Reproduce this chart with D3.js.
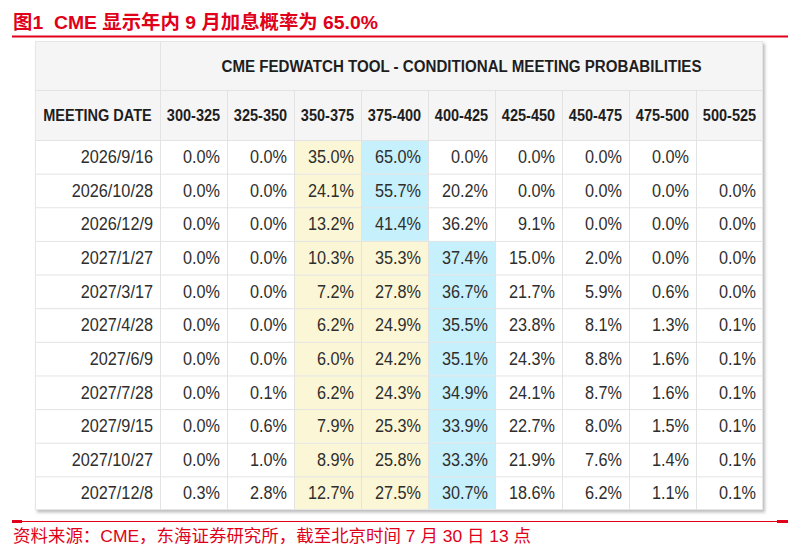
<!DOCTYPE html>
<html>
<head>
<meta charset="utf-8">
<script src="https://cdn.jsdelivr.net/npm/d3@7"></script>
<style>
  body { margin: 0; background: #fff; }
  text { font-family: "Liberation Sans", Arial, sans-serif; }
  .cjk { font-family: "Liberation Sans", "Noto Sans CJK SC", sans-serif; white-space: pre; }
</style>
</head>
<body>
<div id="chart"></div>
<script>
// figure texts
const figTitle = "图1  CME 显示年内 9 月加息概率为 65.0%";
const tableTitle = "CME FEDWATCH TOOL - CONDITIONAL MEETING PROBABILITIES";
const sourceNote = "资料来源：CME，东海证券研究所，截至北京时间 7 月 30 日 13 点";
const dateHeader = "MEETING DATE";

// columns / rows
const rateRanges = ["300-325", "325-350", "350-375", "375-400", "400-425",
  "425-450", "450-475", "475-500", "500-525"];
const currentRange = "350-375";
const meetingDates = ["2026/9/16", "2026/10/28", "2026/12/9", "2027/1/27",
  "2027/3/17", "2027/4/28", "2027/6/9", "2027/7/28", "2027/9/15",
  "2027/10/27", "2027/12/8"];

// probabilities (%), one list per meeting, null = blank cell
const probabilities = [
  [0.0, 0.0, 35.0, 65.0, 0.0, 0.0, 0.0, 0.0, null],
  [0.0, 0.0, 24.1, 55.7, 20.2, 0.0, 0.0, 0.0, 0.0],
  [0.0, 0.0, 13.2, 41.4, 36.2, 9.1, 0.0, 0.0, 0.0],
  [0.0, 0.0, 10.3, 35.3, 37.4, 15.0, 2.0, 0.0, 0.0],
  [0.0, 0.0, 7.2, 27.8, 36.7, 21.7, 5.9, 0.6, 0.0],
  [0.0, 0.0, 6.2, 24.9, 35.5, 23.8, 8.1, 1.3, 0.1],
  [0.0, 0.0, 6.0, 24.2, 35.1, 24.3, 8.8, 1.6, 0.1],
  [0.0, 0.1, 6.2, 24.3, 34.9, 24.1, 8.7, 1.6, 0.1],
  [0.0, 0.6, 7.9, 25.3, 33.9, 22.7, 8.0, 1.5, 0.1],
  [0.0, 1.0, 8.9, 25.8, 33.3, 21.9, 7.6, 1.4, 0.1],
  [0.3, 2.8, 12.7, 27.5, 30.7, 18.6, 6.2, 1.1, 0.1]
];

const width = 808, height = 556;
const red = "#e0001a";
const gridColor = "#e3e3e3";

// table frame
const tLeft = 35, tRight = 763, tTop = 41;
const dateColRight = 160;
const titleRowBottom = 90, headRowBottom = 140, tBottom = 510;

const svg = d3.select("#chart").append("svg")
  .attr("width", width)
  .attr("height", height);

svg.append("rect").attr("width", width).attr("height", height).attr("fill", "#fff");

const defs = svg.append("defs");
defs.append("filter")
  .attr("id", "shadow")
  .attr("x", "-5%").attr("y", "-5%").attr("width", "110%").attr("height", "110%")
  .append("feDropShadow")
  .attr("dx", 2).attr("dy", 2.5)
  .attr("stdDeviation", 1.6)
  .attr("flood-color", "#888")
  .attr("flood-opacity", 0.55);

const x = d3.scaleBand().domain(rateRanges).range([dateColRight, tRight]);
const y = d3.scaleBand().domain(meetingDates).range([headRowBottom, tBottom]);

// figure title + rule
svg.append("text")
  .attr("class", "cjk")
  .attr("x", 13).attr("y", 29)
  .attr("font-size", 19)
  .attr("font-weight", "bold")
  .attr("fill", red)
  .attr("textLength", 365)
  .attr("lengthAdjust", "spacingAndGlyphs")
  .text(figTitle);

svg.append("line")
  .attr("x1", 12).attr("x2", 788)
  .attr("y1", 36.5).attr("y2", 36.5)
  .attr("stroke", red).attr("stroke-width", 2.2);

// table
const table = svg.append("g");

table.append("rect")
  .attr("x", tLeft).attr("y", tTop)
  .attr("width", tRight - tLeft).attr("height", tBottom - tTop)
  .attr("fill", "#fff")
  .attr("filter", "url(#shadow)");

table.append("rect")
  .attr("x", tLeft).attr("y", tTop)
  .attr("width", tRight - tLeft).attr("height", headRowBottom - tTop)
  .attr("fill", "#f5f5f5");

// cell shading: cyan = most likely, yellow = from current range up to it
const cells = meetingDates.flatMap((date, r) => {
  const vals = probabilities[r];
  const maxIdx = d3.maxIndex(vals);
  const curIdx = rateRanges.indexOf(currentRange);
  return rateRanges.map((range, c) => ({
    date, range, value: vals[c],
    fill: c === maxIdx ? "#c6f0fb" : (c >= curIdx && c < maxIdx ? "#fbf7d6" : null)
  }));
});

table.selectAll("rect.cell")
  .data(cells.filter((d) => d.fill))
  .join("rect")
  .attr("class", "cell")
  .attr("x", (d) => x(d.range))
  .attr("y", (d) => y(d.date))
  .attr("width", x.bandwidth())
  .attr("height", y.bandwidth())
  .attr("fill", (d) => d.fill);

// grid lines
const hLines = [titleRowBottom, ...meetingDates.map((d) => y(d))];
table.selectAll("line.h")
  .data(hLines)
  .join("line")
  .attr("class", "h")
  .attr("x1", tLeft).attr("x2", tRight)
  .attr("y1", (d) => d + 0.5).attr("y2", (d) => d + 0.5)
  .attr("stroke", gridColor);

table.append("line")
  .attr("x1", dateColRight + 0.5).attr("x2", dateColRight + 0.5)
  .attr("y1", tTop).attr("y2", tBottom)
  .attr("stroke", gridColor);

table.selectAll("line.v")
  .data(rateRanges.slice(1))
  .join("line")
  .attr("class", "v")
  .attr("x1", (d) => x(d) + 0.5).attr("x2", (d) => x(d) + 0.5)
  .attr("y1", titleRowBottom).attr("y2", tBottom)
  .attr("stroke", gridColor);

table.append("rect")
  .attr("x", tLeft + 0.5).attr("y", tTop + 0.5)
  .attr("width", tRight - tLeft - 1).attr("height", tBottom - tTop - 1)
  .attr("fill", "none")
  .attr("stroke", "#e6e6e6");

// header texts
table.append("text")
  .attr("x", (dateColRight + tRight) / 2)
  .attr("y", (tTop + titleRowBottom) / 2 + 6)
  .attr("text-anchor", "middle")
  .attr("font-size", 16)
  .attr("font-weight", "bold")
  .attr("fill", "#1e1e1e")
  .attr("textLength", 480)
  .attr("lengthAdjust", "spacingAndGlyphs")
  .text(tableTitle);

const headY = (titleRowBottom + headRowBottom) / 2 + 6;
table.append("text")
  .attr("transform", `translate(${(tLeft + dateColRight) / 2},${headY}) scale(0.88,1)`)
  .attr("text-anchor", "middle")
  .attr("font-size", 16.5)
  .attr("font-weight", "bold")
  .attr("fill", "#1e1e1e")
  .text(dateHeader);

table.selectAll("text.range")
  .data(rateRanges)
  .join("text")
  .attr("class", "range")
  .attr("transform", (d) => `translate(${x(d) + x.bandwidth() / 2},${headY}) scale(0.88,1)`)
  .attr("text-anchor", "middle")
  .attr("font-size", 16.5)
  .attr("font-weight", "bold")
  .attr("fill", "#1e1e1e")
  .text((d) => d);

// body texts
const rowMid = (d) => y(d) + y.bandwidth() / 2 + 6.3;

table.selectAll("text.date")
  .data(meetingDates)
  .join("text")
  .attr("class", "date")
  .attr("transform", (d) => `translate(${dateColRight - 7},${rowMid(d)}) scale(0.93,1)`)
  .attr("text-anchor", "end")
  .attr("font-size", 17.5)
  .attr("fill", "#2e2e2e")
  .text((d) => d);

table.selectAll("text.val")
  .data(cells.filter((d) => d.value !== null))
  .join("text")
  .attr("class", "val")
  .attr("transform", (d) => `translate(${x(d.range) + x.bandwidth() - 7},${rowMid(d.date)}) scale(0.93,1)`)
  .attr("text-anchor", "end")
  .attr("font-size", 17.5)
  .attr("fill", "#2e2e2e")
  .text((d) => d.value.toFixed(1) + "%");

// source rule + note
svg.append("line")
  .attr("x1", 12).attr("x2", 788)
  .attr("y1", 521.5).attr("y2", 521.5)
  .attr("stroke", red).attr("stroke-width", 1.2);
svg.append("rect").attr("x", 12).attr("y", 520).attr("width", 10).attr("height", 3).attr("fill", red);
svg.append("rect").attr("x", 777).attr("y", 520).attr("width", 11).attr("height", 3).attr("fill", red);

svg.append("text")
  .attr("class", "cjk")
  .attr("x", 13).attr("y", 542)
  .attr("font-size", 16.5)
  .attr("fill", red)
  .attr("textLength", 518)
  .attr("lengthAdjust", "spacingAndGlyphs")
  .text(sourceNote);
</script>
</body>
</html>
